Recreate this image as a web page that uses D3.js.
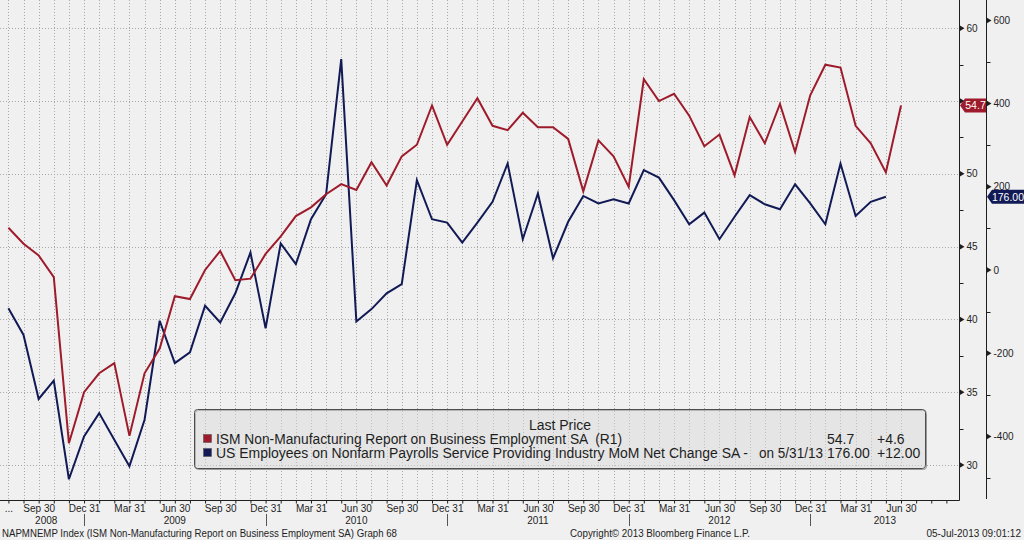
<!DOCTYPE html>
<html><head><meta charset="utf-8">
<script src="https://cdn.jsdelivr.net/npm/d3@7/dist/d3.min.js"></script>
<style>
html,body{margin:0;padding:0;background:#f0f0f0;}
svg{display:block;font-family:"Liberation Sans",Arial,sans-serif;}
svg text{white-space:pre;}
</style></head><body>
<svg id="c" width="1024" height="540"></svg>
<script>
// ---- data ----
const months = [
 "2008-07","2008-08","2008-09","2008-10","2008-11","2008-12",
 "2009-01","2009-02","2009-03","2009-04","2009-05","2009-06","2009-07","2009-08","2009-09","2009-10","2009-11","2009-12",
 "2010-01","2010-02","2010-03","2010-04","2010-05","2010-06","2010-07","2010-08","2010-09","2010-10","2010-11","2010-12",
 "2011-01","2011-02","2011-03","2011-04","2011-05","2011-06","2011-07","2011-08","2011-09","2011-10","2011-11","2011-12",
 "2012-01","2012-02","2012-03","2012-04","2012-05","2012-06","2012-07","2012-08","2012-09","2012-10","2012-11","2012-12",
 "2013-01","2013-02","2013-03","2013-04","2013-05","2013-06"];
const axisExtraMonths = ["2013-07","2013-08","2013-09"];
const ismEmployment = [
 46.3,45.2,44.4,42.9,31.5,35.0,
 36.3,37.0,32.0,36.3,38.0,41.6,41.4,43.4,44.7,42.7,42.8,44.5,
 45.7,47.1,47.7,48.6,49.3,48.9,50.8,49.2,51.2,52.0,54.7,52.0,
 53.6,55.2,53.3,53.0,54.2,53.2,53.2,52.4,48.8,52.3,51.2,49.1,
 56.5,55.0,55.5,54.0,51.9,52.7,49.9,53.9,52.1,54.8,51.5,55.4,
 57.5,57.3,53.3,52.1,50.1,54.7];
const payrollsServices = [
 -92,-156,-310,-266,-503,-400,
 -344,-408,-472,-360,-122,-224,-198,-86,-126,-56,42,-140,
 64,14,122,182,507,-124,-94,-56,-34,216,122,114,
 66,114,164,256,74,184,28,116,178,160,170,160,
 240,222,168,110,138,74,128,180,158,146,206,160,
 110,256,130,164,176];
const quarterEndLabels = {"03":"Mar 31","06":"Jun 30","09":"Sep 30","12":"Dec 31"};
const years = ["2008","2009","2010","2011","2012","2013"];
const leftTicks = [30,35,40,45,50,55,60];
const leftLabelled = [30,35,40,45,50,60]; // 55 is hidden behind the last-value tag
const leftMinor = [32.5,37.5,42.5,47.5,52.5,57.5];
const rightTicks = [-400,-200,0,200,400,600];
const rightMinor = [-500,-300,-100,100,300,500];
const legendTitle = "Last Price";
const seriesNames = ["ISM Non-Manufacturing Report on Business Employment SA  (R1)",
  "US Employees on Nonfarm Payrolls Service Providing Industry MoM Net Change SA -"];
const lastDates = ["", "on 5/31/13"];
const lastValues = ["54.7","176.00"];
const lastChanges = ["+4.6","+12.00"];
const footerLeft = "NAPMNEMP Index (ISM Non-Manufacturing Report on Business Employment SA) Graph 68";
const footerMid = "Copyright\u00A9 2013 Bloomberg Finance L.P.";
const footerRight = "05-Jul-2013 09:01:12";

// ---- layout ----
const RED = "#9e1b2b", NAVY = "#111a55", TXT = "#1e1e1e", GRID = "#a9a9a9";
const plotR = 959.5, plotB = 500.5, axis2X = 986.5;
const svg = d3.select("#c");
const allMonths = months.concat(axisExtraMonths);
const x = d3.scaleLinear().domain([0, months.length-1]).range([8.4, 901]);
const yL = d3.scaleLinear().domain([30,60]).range([465,28.3]);
const yR = d3.scaleLinear().domain([-400,600]).range([436.4,20.4]);

svg.append("rect").attr("width",1024).attr("height",540).attr("fill","#f0f0f0");

// grid
const grid = svg.append("g").attr("stroke",GRID).attr("stroke-width",1).attr("stroke-dasharray","1,2");
grid.selectAll(".h").data(leftTicks).join("line")
  .attr("x1",0).attr("x2",plotR).attr("y1",d=>Math.round(yL(d))+0.5).attr("y2",d=>Math.round(yL(d))+0.5);
grid.selectAll(".v").data(months).join("line")
  .attr("x1",(d,i)=>Math.round(x(i))+0.5).attr("x2",(d,i)=>Math.round(x(i))+0.5).attr("y1",0).attr("y2",plotB);

// lines
svg.append("clipPath").attr("id","pc").append("rect").attr("x",0).attr("y",0).attr("width",plotR).attr("height",plotB);
const lineL = d3.line().x((d,i)=>x(i)).y(d=>yL(d));
const lineR = d3.line().x((d,i)=>x(i)).y(d=>yR(d));
const lg = svg.append("g").attr("clip-path","url(#pc)");
lg.append("path").attr("d",lineR(payrollsServices)).attr("fill","none").attr("stroke",NAVY).attr("stroke-width",2).attr("stroke-linejoin","miter");
lg.append("path").attr("d",lineL(ismEmployment)).attr("fill","none").attr("stroke",RED).attr("stroke-width",2).attr("stroke-linejoin","miter");

// x axis
const xa = svg.append("g").attr("transform",`translate(0,${plotB})`)
  .call(d3.axisBottom(x).tickValues(d3.range(allMonths.length)).tickSize(3).tickSizeOuter(0).tickPadding(1)
    .tickFormat(i => i===0 ? "..." : (i < months.length ? (quarterEndLabels[allMonths[i].slice(5)]||"") : "")));
xa.select(".domain").remove();
xa.selectAll(".tick line").attr("stroke",TXT);
xa.selectAll("text").attr("fill",TXT).style("font-size","10px");
svg.append("line").attr("x1",0).attr("x2",plotR).attr("y1",plotB).attr("y2",plotB).attr("stroke",TXT);

// year labels & separators
const decIdx = months.map((m,i)=>m.endsWith("-12")?i:-1).filter(i=>i>=0);
svg.selectAll(".sep").data(decIdx).join("line")
  .attr("x1",i=>Math.round(x(i))+0.5).attr("x2",i=>Math.round(x(i))+0.5).attr("y1",514).attr("y2",526).attr("stroke","#555");
const bounds = [x(0)].concat(decIdx.map(i=>x(i))).concat([plotR]);
svg.selectAll(".yr").data(years).join("text")
  .attr("x",(d,k)=>(bounds[k]+bounds[k+1])/2).attr("y",524).attr("text-anchor","middle")
  .attr("fill",TXT).style("font-size","10px").text(d=>d);

// value axes
function valueAxis(xPos, scale, majors, labelled, minors, top, bottom){
  const g = svg.append("g");
  g.append("line").attr("x1",xPos).attr("x2",xPos).attr("y1",top).attr("y2",bottom).attr("stroke",TXT);
  g.selectAll(".mn").data(minors).join("line")
    .attr("x1",xPos).attr("x2",xPos+4).attr("y1",d=>Math.round(scale(d))+0.5).attr("y2",d=>Math.round(scale(d))+0.5).attr("stroke",TXT);
  g.selectAll(".mj").data(majors).join("path")
    .attr("d",d=>{const y=scale(d);return `M${xPos},${y-3}L${xPos+5},${y}L${xPos},${y+3}Z`;}).attr("fill",TXT);
  g.selectAll(".lb").data(labelled).join("text")
    .attr("x",xPos+7).attr("y",d=>scale(d)).attr("dy","0.35em").attr("fill",TXT).style("font-size","10px").text(d=>d);
  return g;
}
valueAxis(plotR, yL, leftTicks, leftLabelled, leftMinor, 0, plotB);
valueAxis(axis2X, yR, rightTicks, rightTicks, rightMinor, 0, 499);

// last value tags
function tag(xTip, w, cy, color, label){
  const g = svg.append("g");
  g.append("path").attr("d",`M${xTip},${cy}L${xTip+5},${cy-7}L${xTip+w},${cy-7}L${xTip+w},${cy+7}L${xTip+5},${cy+7}Z`).attr("fill",color);
  g.append("text").attr("x",xTip+5+(w-5)/2).attr("y",cy).attr("dy","0.36em").attr("text-anchor","middle")
    .attr("fill","#fff").style("font-size","10.5px").text(label);
}
tag(960, 26, yL(ismEmployment[ismEmployment.length-1]), RED, lastValues[0]);
tag(987, 37, yR(payrollsServices[payrollsServices.length-1]), NAVY, lastValues[1]);

// legend
const lgd = svg.append("g");
lgd.append("rect").attr("x",195.5).attr("y",410.5).attr("width",731).attr("height",59).attr("rx",3)
  .attr("fill","none").attr("stroke","#9a9a9a");
lgd.append("rect").attr("x",194.5).attr("y",409.5).attr("width",731).attr("height",59).attr("rx",3)
  .attr("fill","rgba(215,215,215,0.45)").attr("stroke","#4d4d4d");
function fit(t, w){ const n=t.node(); const l=n.getComputedTextLength(); if(l>0 && Math.abs(l-w)/w<0.2){ t.attr("textLength",w).attr("lengthAdjust","spacingAndGlyphs"); } return t; }
lgd.append("text").attr("x",560).attr("y",430).attr("text-anchor","middle").attr("fill",TXT).style("font-size","14px").text(legendTitle);
const rowsY = [444, 458];
const cols = [RED, NAVY];
const nameW = [406, 532];
seriesNames.forEach((s,k)=>{
  lgd.append("rect").attr("x",203.5).attr("y",rowsY[k]-9.5).attr("width",8).attr("height",8).attr("fill",cols[k]).attr("stroke","#555").attr("stroke-width",0.6);
  fit(lgd.append("text").attr("x",216).attr("y",rowsY[k]).attr("fill",TXT).style("font-size","14px").text(s), nameW[k]);
  if(lastDates[k]) fit(lgd.append("text").attr("x",759).attr("y",rowsY[k]).attr("fill",TXT).style("font-size","14px").text(lastDates[k]), 64);
  lgd.append("text").attr("x",827).attr("y",rowsY[k]).attr("fill",TXT).style("font-size","14px").text(lastValues[k]);
  lgd.append("text").attr("x",877).attr("y",rowsY[k]).attr("fill",TXT).style("font-size","14px").text(lastChanges[k]);
});

// footer
fit(svg.append("text").attr("x",2).attr("y",537).attr("fill",TXT).style("font-size","10px").text(footerLeft), 395);
fit(svg.append("text").attr("x",570).attr("y",537).attr("fill",TXT).style("font-size","10px").text(footerMid), 180);
svg.append("text").attr("x",1021).attr("y",537).attr("text-anchor","end").attr("fill",TXT).style("font-size","10px").text(footerRight);
</script>
</body></html>
